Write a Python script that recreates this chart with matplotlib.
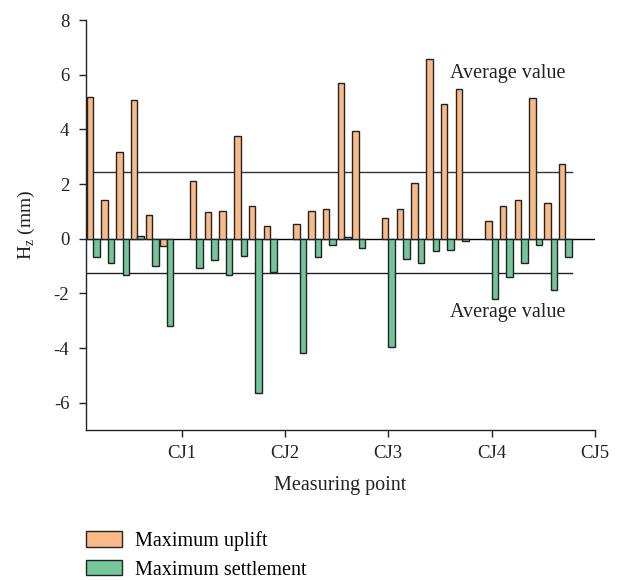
import numpy as np
import matplotlib.pyplot as plt
from matplotlib.patches import Patch

plt.rcParams['font.family'] = ['Liberation Serif', 'DejaVu Serif']

# Значения по участкам между точками CJ (мм)
uplift_seg = [
    [5.2, 1.4, 3.16, 5.08, 0.86, -0.28],
    [2.12, 0.97, 1.03, 3.77, 1.2, 0.47],
    [0.55, 1.02, 1.08, 5.69, 3.94],
    [0.74, 1.08, 2.02, 6.57, 4.94, 5.47],
    [0.65, 1.2, 1.41, 5.13, 1.3, 2.73],
]
settle_seg = [
    [-0.67, -0.89, -1.33, 0.1, -1.01, -3.2],
    [-1.07, -0.79, -1.34, -0.62, -5.66, -1.22],
    [-4.19, -0.67, -0.23, 0.05, -0.35],
    [-3.95, -0.74, -0.89, -0.46, -0.4, -0.07],
    [-2.21, -1.4, -0.89, -0.23, -1.87, -0.67],
]
tick_labels = ['CJ1', 'CJ2', 'CJ3', 'CJ4', 'CJ5']

uplift = np.concatenate(uplift_seg)
settle = np.concatenate(settle_seg)
avg_up = uplift.mean()
avg_down = settle.mean()

# позиции столбцов: шаг 1/7, у каждого участка свой стартовый слот
seg_start = [1, 8, 15, 21, 28]
slots = np.concatenate([np.arange(s, s + len(v)) for s, v in zip(seg_start, uplift_seg)])
x = slots / 7.0
w = 0.063

c_up = '#F9BA8A'
c_down = '#74C69A'

fig = plt.figure(figsize=(6.21, 5.8), dpi=100)
ax = fig.add_axes([0.1385, 0.2586, 0.958 - 0.1385, 0.9655 - 0.2586])

ax.bar(x - w / 2, uplift, w, color=c_up, edgecolor='#222222', linewidth=1.0, zorder=3)
ax.bar(x + w / 2, settle, w, color=c_down, edgecolor='#222222', linewidth=1.0, zorder=3)

x_end = x[-1] + w
ax.axhline(0, color='black', linewidth=1.0, zorder=2)
ax.plot([0.074, x_end], [avg_up, avg_up], color='#333333', linewidth=1.0, zorder=2)
ax.plot([0.074, x_end], [avg_down, avg_down], color='#222222', linewidth=1.0, zorder=2)

ax.text(3.6, 6.06, 'Average value', fontsize=14.5, ha='left', va='center', color='#222222')
ax.text(3.6, -2.7, 'Average value', fontsize=14.5, ha='left', va='center', color='#222222')

ax.set_xlim(0.074, 5.0)
ax.set_ylim(-7, 8)
ax.set_xticks([1, 2, 3, 4, 5])
ax.set_xticklabels(tick_labels)
ax.set_yticks(np.arange(-6, 9, 2))
ax.set_yticklabels([str(v) for v in range(-6, 9, 2)])
ax.tick_params(direction='out', length=5, width=1, labelsize=13.5, colors='#222222')
ax.tick_params(axis='y', pad=7)
ax.tick_params(axis='x', pad=6)

ax.spines['top'].set_visible(False)
ax.spines['right'].set_visible(False)
for s in ['left', 'bottom']:
    ax.spines[s].set_linewidth(1.0)
    ax.spines[s].set_color('#222222')

ax.set_xlabel('Measuring point', fontsize=14.5, labelpad=10, color='#222222')
ax.set_ylabel(r'H$_\mathregular{z}$ (mm)', fontsize=14, labelpad=12, color='#222222')

handles = [Patch(facecolor=c_up, edgecolor='#222222', linewidth=1.0),
           Patch(facecolor=c_down, edgecolor='#222222', linewidth=1.0)]
fig.legend(handles, ['Maximum uplift', 'Maximum settlement'], loc='upper left',
           bbox_to_anchor=(0.1385, 1 - 531 / 580), frameon=False, fontsize=14.5,
           borderpad=0, borderaxespad=0, handlelength=1.8, handleheight=0.8,
           handletextpad=0.65, labelspacing=0.45)

fig.savefig('out.png', dpi=100)
